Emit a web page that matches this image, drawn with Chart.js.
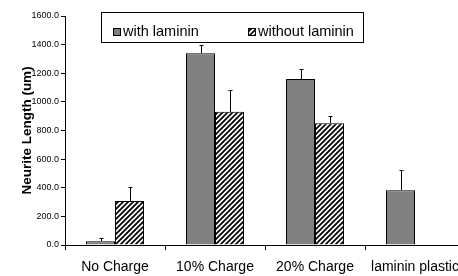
<!DOCTYPE html>
<html>
<head>
<meta charset="utf-8">
<script src="https://cdn.jsdelivr.net/npm/chart.js@4/dist/chart.umd.min.js"></script>
<style>
    html, body { margin: 0; padding: 0; background: #fff; overflow: hidden; }
    #wrap { width: 470px; height: 276px; }
</style>
</head>
<body>
<div id="wrap"><canvas id="neuriteChart"></canvas></div>
<script>
const categories = ['No Charge', '10% Charge', '20% Charge', 'laminin plastic'];
const withLaminin = [26, 1340, 1160, 382];
const withLamininErr = [23, 58, 68, 144];
const withoutLaminin = [307, 931, 850, null];
const withoutLamininErr = [100, 150, 54, null];
const seriesNames = ['with laminin', 'without laminin'];
const yTicks = { min: 0, max: 1600, step: 200 };

const FONT = '"Liberation Sans", Arial, sans-serif';

function makeHatch() {
    const c = document.createElement('canvas');
    c.width = 5;
    c.height = 5;
    const g = c.getContext('2d');
    g.fillStyle = '#ffffff';
    g.fillRect(0, 0, 5, 5);
    g.strokeStyle = '#000000';
    g.lineWidth = 1.8;
    g.beginPath();
    g.moveTo(-1, 6); g.lineTo(6, -1);
    g.moveTo(-1, 1); g.lineTo(1, -1);
    g.moveTo(4, 6); g.lineTo(6, 4);
    g.stroke();
    return g.createPattern(c, 'repeat');
}

const hatch = makeHatch();
const errors = [withLamininErr, withoutLamininErr];

// error bars: upward only, with a small cap
const errorBars = {
    id: 'errorBars',
    afterDatasetsDraw(chart) {
        const ctx = chart.ctx;
        const y = chart.scales.y;
        ctx.save();
        ctx.strokeStyle = '#000';
        ctx.lineWidth = 1;
        chart.data.datasets.forEach((ds, i) => {
            const meta = chart.getDatasetMeta(i);
            meta.data.forEach((bar, j) => {
                const v = ds.data[j];
                const e = errors[i][j];
                if (v == null || e == null) return;
                const top = Math.round(y.getPixelForValue(v + e)) + 0.5;
                const x = Math.round(bar.x) + 0.5;
                ctx.beginPath();
                ctx.moveTo(x, Math.round(bar.y));
                ctx.lineTo(x, top);
                ctx.moveTo(x - 2, top);
                ctx.lineTo(x + 2, top);
                ctx.stroke();
            });
        });
        ctx.restore();
    }
};

// boxed legend sitting over the plot
const boxLegend = {
    id: 'boxLegend',
    afterDraw(chart) {
        const ctx = chart.ctx;
        ctx.save();
        ctx.fillStyle = '#fff';
        ctx.fillRect(101, 12, 263, 31);
        ctx.strokeStyle = '#000';
        ctx.lineWidth = 1;
        ctx.strokeRect(101.5, 12.5, 262, 30);
        const items = [
            { x: 113, fill: '#808080' },
            { x: 248, fill: hatch }
        ];
        ctx.font = '14.5px ' + FONT;
        ctx.textBaseline = 'alphabetic';
        items.forEach((it, i) => {
            ctx.fillStyle = it.fill;
            ctx.fillRect(it.x, 28, 8, 8);
            ctx.strokeStyle = '#000';
            ctx.strokeRect(it.x + 0.5, 28.5, 7, 7);
            ctx.fillStyle = '#000';
            ctx.fillText(seriesNames[i], it.x + 10, 36);
        });
        ctx.restore();
    }
};

new Chart(document.getElementById('neuriteChart'), {
    type: 'bar',
    data: {
        labels: categories,
        datasets: [
            {
                label: seriesNames[0],
                data: withLaminin,
                backgroundColor: '#808080',
                borderColor: '#000',
                borderWidth: 1
            },
            {
                label: seriesNames[1],
                data: withoutLaminin,
                backgroundColor: hatch,
                borderColor: '#000',
                borderWidth: 1
            }
        ]
    },
    options: {
        responsive: true,
        maintainAspectRatio: false,
        animation: false,
        layout: { padding: { top: 16, right: 5, left: 0, bottom: 0 } },
        datasets: {
            bar: { categoryPercentage: 0.58, barPercentage: 1.0 }
        },
        scales: {
            x: {
                grid: { offset: true, drawOnChartArea: false, tickLength: 5, color: '#000' },
                border: { color: '#000' },
                ticks: {
                    color: '#000',
                    padding: 9,
                    maxRotation: 0,
                    autoSkip: false,
                    font: { family: FONT, size: 14 }
                },
                afterFit(scale) { scale.height = 31; }
            },
            y: {
                min: yTicks.min,
                max: yTicks.max,
                grid: { drawOnChartArea: false, tickLength: 4, color: '#000' },
                border: { color: '#000' },
                ticks: {
                    stepSize: yTicks.step,
                    color: '#000',
                    padding: 2,
                    font: { family: FONT, size: 9 },
                    callback: v => Number(v).toFixed(1)
                },
                title: {
                    display: true,
                    text: 'Neurite Length (um)',
                    color: '#000',
                    font: { family: FONT, size: 13.5, weight: 'bold' },
                    padding: { top: 19, bottom: 0 }
                },
                afterFit(scale) { scale.width = 65; }
            }
        },
        plugins: {
            legend: { display: false },
            tooltip: { enabled: false }
        }
    },
    plugins: [errorBars, boxLegend]
});
</script>
</body>
</html>
